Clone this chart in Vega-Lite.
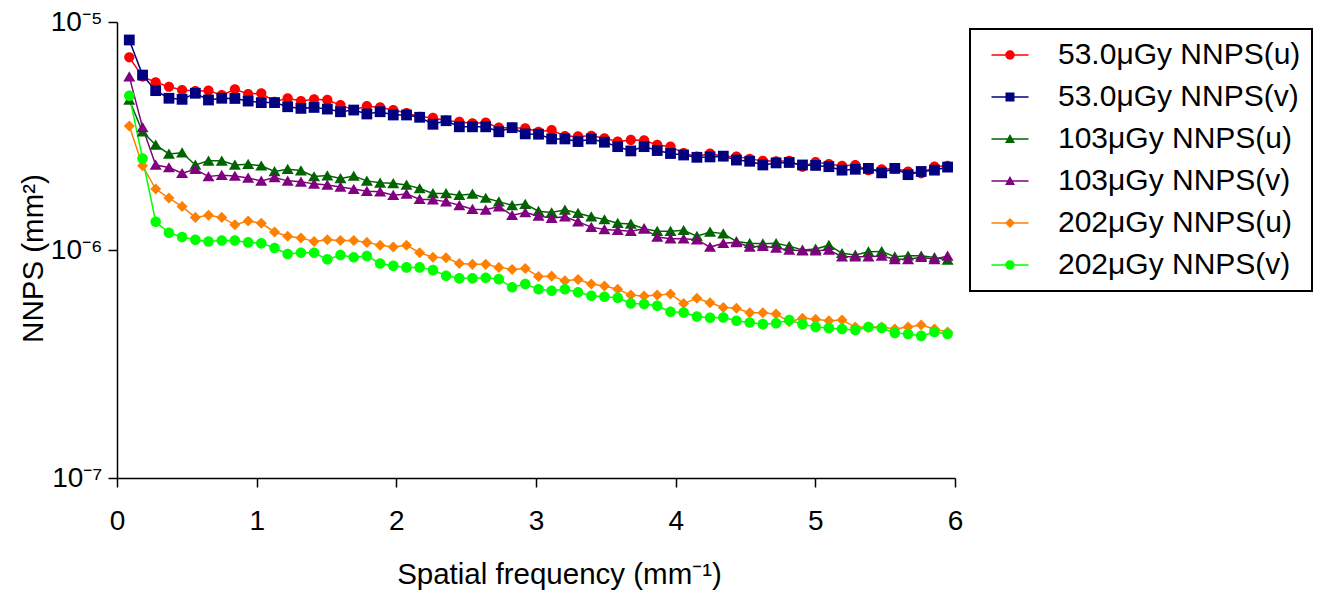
{
"$schema": "https://vega.github.io/schema/vega-lite/v6.json",
"width": 838, "height": 456,
"autosize": {"type": "none"},
"padding": {"left": 117, "top": 22, "right": 362, "bottom": 112},
"background": "white",
"config": {"view": {"stroke": null}, "font": "Liberation Sans", "legend": {"strokeWidth": 2}},
"datasets": {"pts": [
{"f":0.088,"s":"53.0μGy NNPS(u)","v":7.00e-6},{"f":0.183,"s":"53.0μGy NNPS(u)","v":5.76e-6},{"f":0.277,"s":"53.0μGy NNPS(u)","v":5.44e-6},{"f":0.372,"s":"53.0μGy NNPS(u)","v":5.20e-6},{"f":0.466,"s":"53.0μGy NNPS(u)","v":5.03e-6},{"f":0.561,"s":"53.0μGy NNPS(u)","v":4.98e-6},{"f":0.655,"s":"53.0μGy NNPS(u)","v":5.00e-6},{"f":0.750,"s":"53.0μGy NNPS(u)","v":4.78e-6},{"f":0.844,"s":"53.0μGy NNPS(u)","v":5.07e-6},{"f":0.939,"s":"53.0μGy NNPS(u)","v":4.83e-6},
{"f":1.033,"s":"53.0μGy NNPS(u)","v":4.87e-6},{"f":1.128,"s":"53.0μGy NNPS(u)","v":4.47e-6},{"f":1.222,"s":"53.0μGy NNPS(u)","v":4.63e-6},{"f":1.317,"s":"53.0μGy NNPS(u)","v":4.50e-6},{"f":1.411,"s":"53.0μGy NNPS(u)","v":4.58e-6},{"f":1.506,"s":"53.0μGy NNPS(u)","v":4.55e-6},{"f":1.600,"s":"53.0μGy NNPS(u)","v":4.32e-6},{"f":1.695,"s":"53.0μGy NNPS(u)","v":4.11e-6},{"f":1.789,"s":"53.0μGy NNPS(u)","v":4.28e-6},{"f":1.884,"s":"53.0μGy NNPS(u)","v":4.22e-6},
{"f":1.978,"s":"53.0μGy NNPS(u)","v":4.11e-6},{"f":2.073,"s":"53.0μGy NNPS(u)","v":3.99e-6},{"f":2.167,"s":"53.0μGy NNPS(u)","v":3.84e-6},{"f":2.262,"s":"53.0μGy NNPS(u)","v":3.80e-6},{"f":2.356,"s":"53.0μGy NNPS(u)","v":3.69e-6},{"f":2.451,"s":"53.0μGy NNPS(u)","v":3.65e-6},{"f":2.545,"s":"53.0μGy NNPS(u)","v":3.59e-6},{"f":2.640,"s":"53.0μGy NNPS(u)","v":3.62e-6},{"f":2.734,"s":"53.0μGy NNPS(u)","v":3.44e-6},{"f":2.829,"s":"53.0μGy NNPS(u)","v":3.44e-6},
{"f":2.923,"s":"53.0μGy NNPS(u)","v":3.42e-6},{"f":3.018,"s":"53.0μGy NNPS(u)","v":3.30e-6},{"f":3.112,"s":"53.0μGy NNPS(u)","v":3.36e-6},{"f":3.207,"s":"53.0μGy NNPS(u)","v":3.16e-6},{"f":3.301,"s":"53.0μGy NNPS(u)","v":3.15e-6},{"f":3.396,"s":"53.0μGy NNPS(u)","v":3.17e-6},{"f":3.490,"s":"53.0μGy NNPS(u)","v":3.09e-6},{"f":3.585,"s":"53.0μGy NNPS(u)","v":2.99e-6},{"f":3.679,"s":"53.0μGy NNPS(u)","v":3.04e-6},{"f":3.774,"s":"53.0μGy NNPS(u)","v":3.03e-6},
{"f":3.868,"s":"53.0μGy NNPS(u)","v":2.89e-6},{"f":3.963,"s":"53.0μGy NNPS(u)","v":2.84e-6},{"f":4.057,"s":"53.0μGy NNPS(u)","v":2.66e-6},{"f":4.152,"s":"53.0μGy NNPS(u)","v":2.57e-6},{"f":4.246,"s":"53.0μGy NNPS(u)","v":2.65e-6},{"f":4.341,"s":"53.0μGy NNPS(u)","v":2.58e-6},{"f":4.435,"s":"53.0μGy NNPS(u)","v":2.57e-6},{"f":4.530,"s":"53.0μGy NNPS(u)","v":2.51e-6},{"f":4.624,"s":"53.0μGy NNPS(u)","v":2.46e-6},{"f":4.719,"s":"53.0μGy NNPS(u)","v":2.45e-6},
{"f":4.813,"s":"53.0μGy NNPS(u)","v":2.46e-6},{"f":4.908,"s":"53.0μGy NNPS(u)","v":2.32e-6},{"f":5.002,"s":"53.0μGy NNPS(u)","v":2.43e-6},{"f":5.097,"s":"53.0μGy NNPS(u)","v":2.38e-6},{"f":5.191,"s":"53.0μGy NNPS(u)","v":2.34e-6},{"f":5.286,"s":"53.0μGy NNPS(u)","v":2.36e-6},{"f":5.380,"s":"53.0μGy NNPS(u)","v":2.24e-6},{"f":5.475,"s":"53.0μGy NNPS(u)","v":2.26e-6},{"f":5.569,"s":"53.0μGy NNPS(u)","v":2.28e-6},{"f":5.664,"s":"53.0μGy NNPS(u)","v":2.21e-6},
{"f":5.758,"s":"53.0μGy NNPS(u)","v":2.17e-6},{"f":5.853,"s":"53.0μGy NNPS(u)","v":2.32e-6},{"f":5.947,"s":"53.0μGy NNPS(u)","v":2.34e-6},
{"f":0.088,"s":"53.0μGy NNPS(v)","v":8.34e-6},{"f":0.183,"s":"53.0μGy NNPS(v)","v":5.85e-6},{"f":0.277,"s":"53.0μGy NNPS(v)","v":5.00e-6},{"f":0.372,"s":"53.0μGy NNPS(v)","v":4.63e-6},{"f":0.466,"s":"53.0μGy NNPS(v)","v":4.58e-6},{"f":0.561,"s":"53.0μGy NNPS(v)","v":4.87e-6},{"f":0.655,"s":"53.0μGy NNPS(v)","v":4.55e-6},{"f":0.750,"s":"53.0μGy NNPS(v)","v":4.63e-6},{"f":0.844,"s":"53.0μGy NNPS(v)","v":4.62e-6},{"f":0.939,"s":"53.0μGy NNPS(v)","v":4.50e-6},
{"f":1.033,"s":"53.0μGy NNPS(v)","v":4.43e-6},{"f":1.128,"s":"53.0μGy NNPS(v)","v":4.43e-6},{"f":1.222,"s":"53.0μGy NNPS(v)","v":4.25e-6},{"f":1.317,"s":"53.0μGy NNPS(v)","v":4.18e-6},{"f":1.411,"s":"53.0μGy NNPS(v)","v":4.22e-6},{"f":1.506,"s":"53.0μGy NNPS(v)","v":4.15e-6},{"f":1.600,"s":"53.0μGy NNPS(v)","v":4.04e-6},{"f":1.695,"s":"53.0μGy NNPS(v)","v":4.11e-6},{"f":1.789,"s":"53.0μGy NNPS(v)","v":3.95e-6},{"f":1.884,"s":"53.0μGy NNPS(v)","v":4.04e-6},
{"f":1.978,"s":"53.0μGy NNPS(v)","v":3.91e-6},{"f":2.073,"s":"53.0μGy NNPS(v)","v":3.91e-6},{"f":2.167,"s":"53.0μGy NNPS(v)","v":3.82e-6},{"f":2.262,"s":"53.0μGy NNPS(v)","v":3.56e-6},{"f":2.356,"s":"53.0μGy NNPS(v)","v":3.69e-6},{"f":2.451,"s":"53.0μGy NNPS(v)","v":3.47e-6},{"f":2.545,"s":"53.0μGy NNPS(v)","v":3.47e-6},{"f":2.640,"s":"53.0μGy NNPS(v)","v":3.47e-6},{"f":2.734,"s":"53.0μGy NNPS(v)","v":3.30e-6},{"f":2.829,"s":"53.0μGy NNPS(v)","v":3.44e-6},
{"f":2.923,"s":"53.0μGy NNPS(v)","v":3.23e-6},{"f":3.018,"s":"53.0μGy NNPS(v)","v":3.22e-6},{"f":3.112,"s":"53.0μGy NNPS(v)","v":3.07e-6},{"f":3.207,"s":"53.0μGy NNPS(v)","v":3.07e-6},{"f":3.301,"s":"53.0μGy NNPS(v)","v":2.99e-6},{"f":3.396,"s":"53.0μGy NNPS(v)","v":3.07e-6},{"f":3.490,"s":"53.0μGy NNPS(v)","v":2.97e-6},{"f":3.585,"s":"53.0μGy NNPS(v)","v":2.84e-6},{"f":3.679,"s":"53.0μGy NNPS(v)","v":2.72e-6},{"f":3.774,"s":"53.0μGy NNPS(v)","v":2.84e-6},
{"f":3.868,"s":"53.0μGy NNPS(v)","v":2.73e-6},{"f":3.963,"s":"53.0μGy NNPS(v)","v":2.65e-6},{"f":4.057,"s":"53.0μGy NNPS(v)","v":2.61e-6},{"f":4.152,"s":"53.0μGy NNPS(v)","v":2.55e-6},{"f":4.246,"s":"53.0μGy NNPS(v)","v":2.56e-6},{"f":4.341,"s":"53.0μGy NNPS(v)","v":2.58e-6},{"f":4.435,"s":"53.0μGy NNPS(v)","v":2.48e-6},{"f":4.530,"s":"53.0μGy NNPS(v)","v":2.45e-6},{"f":4.624,"s":"53.0μGy NNPS(v)","v":2.36e-6},{"f":4.719,"s":"53.0μGy NNPS(v)","v":2.41e-6},
{"f":4.813,"s":"53.0μGy NNPS(v)","v":2.42e-6},{"f":4.908,"s":"53.0μGy NNPS(v)","v":2.36e-6},{"f":5.002,"s":"53.0μGy NNPS(v)","v":2.35e-6},{"f":5.097,"s":"53.0μGy NNPS(v)","v":2.32e-6},{"f":5.191,"s":"53.0μGy NNPS(v)","v":2.24e-6},{"f":5.286,"s":"53.0μGy NNPS(v)","v":2.26e-6},{"f":5.380,"s":"53.0μGy NNPS(v)","v":2.28e-6},{"f":5.475,"s":"53.0μGy NNPS(v)","v":2.18e-6},{"f":5.569,"s":"53.0μGy NNPS(v)","v":2.28e-6},{"f":5.664,"s":"53.0μGy NNPS(v)","v":2.14e-6},
{"f":5.758,"s":"53.0μGy NNPS(v)","v":2.21e-6},{"f":5.853,"s":"53.0μGy NNPS(v)","v":2.24e-6},{"f":5.947,"s":"53.0μGy NNPS(v)","v":2.31e-6},
{"f":0.088,"s":"103μGy NNPS(u)","v":4.55e-6},{"f":0.183,"s":"103μGy NNPS(u)","v":3.30e-6},{"f":0.277,"s":"103μGy NNPS(u)","v":2.89e-6},{"f":0.372,"s":"103μGy NNPS(u)","v":2.64e-6},{"f":0.466,"s":"103μGy NNPS(u)","v":2.67e-6},{"f":0.561,"s":"103μGy NNPS(u)","v":2.36e-6},{"f":0.655,"s":"103μGy NNPS(u)","v":2.46e-6},{"f":0.750,"s":"103μGy NNPS(u)","v":2.46e-6},{"f":0.844,"s":"103μGy NNPS(u)","v":2.36e-6},{"f":0.939,"s":"103μGy NNPS(u)","v":2.38e-6},
{"f":1.033,"s":"103μGy NNPS(u)","v":2.34e-6},{"f":1.128,"s":"103μGy NNPS(u)","v":2.21e-6},{"f":1.222,"s":"103μGy NNPS(u)","v":2.26e-6},{"f":1.317,"s":"103μGy NNPS(u)","v":2.23e-6},{"f":1.411,"s":"103μGy NNPS(u)","v":2.10e-6},{"f":1.506,"s":"103μGy NNPS(u)","v":2.12e-6},{"f":1.600,"s":"103μGy NNPS(u)","v":2.06e-6},{"f":1.695,"s":"103μGy NNPS(u)","v":2.11e-6},{"f":1.789,"s":"103μGy NNPS(u)","v":2.01e-6},{"f":1.884,"s":"103μGy NNPS(u)","v":1.97e-6},
{"f":1.978,"s":"103μGy NNPS(u)","v":1.96e-6},{"f":2.073,"s":"103μGy NNPS(u)","v":1.93e-6},{"f":2.167,"s":"103μGy NNPS(u)","v":1.86e-6},{"f":2.262,"s":"103μGy NNPS(u)","v":1.77e-6},{"f":2.356,"s":"103μGy NNPS(u)","v":1.77e-6},{"f":2.451,"s":"103μGy NNPS(u)","v":1.74e-6},{"f":2.545,"s":"103μGy NNPS(u)","v":1.76e-6},{"f":2.640,"s":"103μGy NNPS(u)","v":1.69e-6},{"f":2.734,"s":"103μGy NNPS(u)","v":1.63e-6},{"f":2.829,"s":"103μGy NNPS(u)","v":1.57e-6},
{"f":2.923,"s":"103μGy NNPS(u)","v":1.59e-6},{"f":3.018,"s":"103μGy NNPS(u)","v":1.48e-6},{"f":3.112,"s":"103μGy NNPS(u)","v":1.46e-6},{"f":3.207,"s":"103μGy NNPS(u)","v":1.50e-6},{"f":3.301,"s":"103μGy NNPS(u)","v":1.45e-6},{"f":3.396,"s":"103μGy NNPS(u)","v":1.40e-6},{"f":3.490,"s":"103μGy NNPS(u)","v":1.36e-6},{"f":3.585,"s":"103μGy NNPS(u)","v":1.31e-6},{"f":3.679,"s":"103μGy NNPS(u)","v":1.30e-6},{"f":3.774,"s":"103μGy NNPS(u)","v":1.24e-6},
{"f":3.868,"s":"103μGy NNPS(u)","v":1.21e-6},{"f":3.963,"s":"103μGy NNPS(u)","v":1.21e-6},{"f":4.057,"s":"103μGy NNPS(u)","v":1.22e-6},{"f":4.152,"s":"103μGy NNPS(u)","v":1.15e-6},{"f":4.246,"s":"103μGy NNPS(u)","v":1.20e-6},{"f":4.341,"s":"103μGy NNPS(u)","v":1.18e-6},{"f":4.435,"s":"103μGy NNPS(u)","v":1.09e-6},{"f":4.530,"s":"103μGy NNPS(u)","v":1.07e-6},{"f":4.624,"s":"103μGy NNPS(u)","v":1.065e-6},{"f":4.719,"s":"103μGy NNPS(u)","v":1.07e-6},
{"f":4.813,"s":"103μGy NNPS(u)","v":1.04e-6},{"f":4.908,"s":"103μGy NNPS(u)","v":1.00e-6},{"f":5.002,"s":"103μGy NNPS(u)","v":1.01e-6},{"f":5.097,"s":"103μGy NNPS(u)","v":1.05e-6},{"f":5.191,"s":"103μGy NNPS(u)","v":9.67e-7},{"f":5.286,"s":"103μGy NNPS(u)","v":9.51e-7},{"f":5.380,"s":"103μGy NNPS(u)","v":9.83e-7},{"f":5.475,"s":"103μGy NNPS(u)","v":9.86e-7},{"f":5.569,"s":"103μGy NNPS(u)","v":9.35e-7},{"f":5.664,"s":"103μGy NNPS(u)","v":9.43e-7},
{"f":5.758,"s":"103μGy NNPS(u)","v":9.43e-7},{"f":5.853,"s":"103μGy NNPS(u)","v":9.27e-7},{"f":5.947,"s":"103μGy NNPS(u)","v":9.04e-7},
{"f":0.088,"s":"103μGy NNPS(v)","v":5.76e-6},{"f":0.183,"s":"103μGy NNPS(v)","v":3.45e-6},{"f":0.277,"s":"103μGy NNPS(v)","v":2.36e-6},{"f":0.372,"s":"103μGy NNPS(v)","v":2.30e-6},{"f":0.466,"s":"103μGy NNPS(v)","v":2.17e-6},{"f":0.561,"s":"103μGy NNPS(v)","v":2.26e-6},{"f":0.655,"s":"103μGy NNPS(v)","v":2.10e-6},{"f":0.750,"s":"103μGy NNPS(v)","v":2.13e-6},{"f":0.844,"s":"103μGy NNPS(v)","v":2.11e-6},{"f":0.939,"s":"103μGy NNPS(v)","v":2.07e-6},
{"f":1.033,"s":"103μGy NNPS(v)","v":2.01e-6},{"f":1.128,"s":"103μGy NNPS(v)","v":2.08e-6},{"f":1.222,"s":"103μGy NNPS(v)","v":2.01e-6},{"f":1.317,"s":"103μGy NNPS(v)","v":1.99e-6},{"f":1.411,"s":"103μGy NNPS(v)","v":1.95e-6},{"f":1.506,"s":"103μGy NNPS(v)","v":1.93e-6},{"f":1.600,"s":"103μGy NNPS(v)","v":1.89e-6},{"f":1.695,"s":"103μGy NNPS(v)","v":1.85e-6},{"f":1.789,"s":"103μGy NNPS(v)","v":1.81e-6},{"f":1.884,"s":"103μGy NNPS(v)","v":1.80e-6},
{"f":1.978,"s":"103μGy NNPS(v)","v":1.74e-6},{"f":2.073,"s":"103μGy NNPS(v)","v":1.76e-6},{"f":2.167,"s":"103μGy NNPS(v)","v":1.67e-6},{"f":2.262,"s":"103μGy NNPS(v)","v":1.66e-6},{"f":2.356,"s":"103μGy NNPS(v)","v":1.63e-6},{"f":2.451,"s":"103μGy NNPS(v)","v":1.57e-6},{"f":2.545,"s":"103μGy NNPS(v)","v":1.51e-6},{"f":2.640,"s":"103μGy NNPS(v)","v":1.50e-6},{"f":2.734,"s":"103μGy NNPS(v)","v":1.55e-6},{"f":2.829,"s":"103μGy NNPS(v)","v":1.42e-6},
{"f":2.923,"s":"103μGy NNPS(v)","v":1.46e-6},{"f":3.018,"s":"103μGy NNPS(v)","v":1.41e-6},{"f":3.112,"s":"103μGy NNPS(v)","v":1.38e-6},{"f":3.207,"s":"103μGy NNPS(v)","v":1.40e-6},{"f":3.301,"s":"103μGy NNPS(v)","v":1.33e-6},{"f":3.396,"s":"103μGy NNPS(v)","v":1.26e-6},{"f":3.490,"s":"103μGy NNPS(v)","v":1.23e-6},{"f":3.585,"s":"103μGy NNPS(v)","v":1.22e-6},{"f":3.679,"s":"103μGy NNPS(v)","v":1.21e-6},{"f":3.774,"s":"103μGy NNPS(v)","v":1.24e-6},
{"f":3.868,"s":"103μGy NNPS(v)","v":1.14e-6},{"f":3.963,"s":"103μGy NNPS(v)","v":1.12e-6},{"f":4.057,"s":"103μGy NNPS(v)","v":1.12e-6},{"f":4.152,"s":"103μGy NNPS(v)","v":1.11e-6},{"f":4.246,"s":"103μGy NNPS(v)","v":1.03e-6},{"f":4.341,"s":"103μGy NNPS(v)","v":1.07e-6},{"f":4.435,"s":"103μGy NNPS(v)","v":1.08e-6},{"f":4.530,"s":"103μGy NNPS(v)","v":1.03e-6},{"f":4.624,"s":"103μGy NNPS(v)","v":1.04e-6},{"f":4.719,"s":"103μGy NNPS(v)","v":1.02e-6},
{"f":4.813,"s":"103μGy NNPS(v)","v":1.00e-6},{"f":4.908,"s":"103μGy NNPS(v)","v":9.93e-7},{"f":5.002,"s":"103μGy NNPS(v)","v":9.93e-7},{"f":5.097,"s":"103μGy NNPS(v)","v":1.00e-6},{"f":5.191,"s":"103μGy NNPS(v)","v":9.35e-7},{"f":5.286,"s":"103μGy NNPS(v)","v":9.35e-7},{"f":5.380,"s":"103μGy NNPS(v)","v":9.35e-7},{"f":5.475,"s":"103μGy NNPS(v)","v":9.41e-7},{"f":5.569,"s":"103μGy NNPS(v)","v":9.10e-7},{"f":5.664,"s":"103μGy NNPS(v)","v":9.10e-7},
{"f":5.758,"s":"103μGy NNPS(v)","v":9.29e-7},{"f":5.853,"s":"103μGy NNPS(v)","v":9.10e-7},{"f":5.947,"s":"103μGy NNPS(v)","v":9.41e-7},
{"f":0.088,"s":"202μGy NNPS(u)","v":3.50e-6},{"f":0.183,"s":"202μGy NNPS(u)","v":2.34e-6},{"f":0.277,"s":"202μGy NNPS(u)","v":1.85e-6},{"f":0.372,"s":"202μGy NNPS(u)","v":1.69e-6},{"f":0.466,"s":"202μGy NNPS(u)","v":1.55e-6},{"f":0.561,"s":"202μGy NNPS(u)","v":1.39e-6},{"f":0.655,"s":"202μGy NNPS(u)","v":1.42e-6},{"f":0.750,"s":"202μGy NNPS(u)","v":1.39e-6},{"f":0.844,"s":"202μGy NNPS(u)","v":1.29e-6},{"f":0.939,"s":"202μGy NNPS(u)","v":1.34e-6},
{"f":1.033,"s":"202μGy NNPS(u)","v":1.31e-6},{"f":1.128,"s":"202μGy NNPS(u)","v":1.20e-6},{"f":1.222,"s":"202μGy NNPS(u)","v":1.15e-6},{"f":1.317,"s":"202μGy NNPS(u)","v":1.13e-6},{"f":1.411,"s":"202μGy NNPS(u)","v":1.09e-6},{"f":1.506,"s":"202μGy NNPS(u)","v":1.11e-6},{"f":1.600,"s":"202μGy NNPS(u)","v":1.10e-6},{"f":1.695,"s":"202μGy NNPS(u)","v":1.10e-6},{"f":1.789,"s":"202μGy NNPS(u)","v":1.08e-6},{"f":1.884,"s":"202μGy NNPS(u)","v":1.05e-6},
{"f":1.978,"s":"202μGy NNPS(u)","v":1.03e-6},{"f":2.073,"s":"202μGy NNPS(u)","v":1.05e-6},{"f":2.167,"s":"202μGy NNPS(u)","v":9.73e-7},{"f":2.262,"s":"202μGy NNPS(u)","v":9.29e-7},{"f":2.356,"s":"202μGy NNPS(u)","v":9.25e-7},{"f":2.451,"s":"202μGy NNPS(u)","v":8.73e-7},{"f":2.545,"s":"202μGy NNPS(u)","v":8.65e-7},{"f":2.640,"s":"202μGy NNPS(u)","v":8.65e-7},{"f":2.734,"s":"202μGy NNPS(u)","v":8.39e-7},{"f":2.829,"s":"202μGy NNPS(u)","v":8.22e-7},
{"f":2.923,"s":"202μGy NNPS(u)","v":8.30e-7},{"f":3.018,"s":"202μGy NNPS(u)","v":7.66e-7},{"f":3.112,"s":"202μGy NNPS(u)","v":7.68e-7},{"f":3.207,"s":"202μGy NNPS(u)","v":7.33e-7},{"f":3.301,"s":"202μGy NNPS(u)","v":7.43e-7},{"f":3.396,"s":"202μGy NNPS(u)","v":7.10e-7},{"f":3.490,"s":"202μGy NNPS(u)","v":6.95e-7},{"f":3.585,"s":"202μGy NNPS(u)","v":6.73e-7},{"f":3.679,"s":"202μGy NNPS(u)","v":6.34e-7},{"f":3.774,"s":"202μGy NNPS(u)","v":6.28e-7},
{"f":3.868,"s":"202μGy NNPS(u)","v":6.34e-7},{"f":3.963,"s":"202μGy NNPS(u)","v":6.41e-7},{"f":4.057,"s":"202μGy NNPS(u)","v":5.83e-7},{"f":4.152,"s":"202μGy NNPS(u)","v":6.14e-7},{"f":4.246,"s":"202μGy NNPS(u)","v":5.87e-7},{"f":4.341,"s":"202μGy NNPS(u)","v":5.60e-7},{"f":4.435,"s":"202μGy NNPS(u)","v":5.55e-7},{"f":4.530,"s":"202μGy NNPS(u)","v":5.31e-7},{"f":4.624,"s":"202μGy NNPS(u)","v":5.31e-7},{"f":4.719,"s":"202μGy NNPS(u)","v":5.24e-7},
{"f":4.813,"s":"202μGy NNPS(u)","v":4.85e-7},{"f":4.908,"s":"202μGy NNPS(u)","v":5.02e-7},{"f":5.002,"s":"202μGy NNPS(u)","v":4.97e-7},{"f":5.097,"s":"202μGy NNPS(u)","v":4.89e-7},{"f":5.191,"s":"202μGy NNPS(u)","v":4.93e-7},{"f":5.286,"s":"202μGy NNPS(u)","v":4.59e-7},{"f":5.380,"s":"202μGy NNPS(u)","v":4.59e-7},{"f":5.475,"s":"202μGy NNPS(u)","v":4.59e-7},{"f":5.569,"s":"202μGy NNPS(u)","v":4.50e-7},{"f":5.664,"s":"202μGy NNPS(u)","v":4.59e-7},
{"f":5.758,"s":"202μGy NNPS(u)","v":4.69e-7},{"f":5.853,"s":"202μGy NNPS(u)","v":4.50e-7},{"f":5.947,"s":"202μGy NNPS(u)","v":4.37e-7},
{"f":0.088,"s":"202μGy NNPS(v)","v":4.75e-6},{"f":0.183,"s":"202μGy NNPS(v)","v":2.52e-6},{"f":0.277,"s":"202μGy NNPS(v)","v":1.33e-6},{"f":0.372,"s":"202μGy NNPS(v)","v":1.19e-6},{"f":0.466,"s":"202μGy NNPS(v)","v":1.14e-6},{"f":0.561,"s":"202μGy NNPS(v)","v":1.11e-6},{"f":0.655,"s":"202μGy NNPS(v)","v":1.09e-6},{"f":0.750,"s":"202μGy NNPS(v)","v":1.10e-6},{"f":0.844,"s":"202μGy NNPS(v)","v":1.10e-6},{"f":0.939,"s":"202μGy NNPS(v)","v":1.08e-6},
{"f":1.033,"s":"202μGy NNPS(v)","v":1.07e-6},{"f":1.128,"s":"202μGy NNPS(v)","v":1.02e-6},{"f":1.222,"s":"202μGy NNPS(v)","v":9.60e-7},{"f":1.317,"s":"202μGy NNPS(v)","v":9.73e-7},{"f":1.411,"s":"202μGy NNPS(v)","v":9.73e-7},{"f":1.506,"s":"202μGy NNPS(v)","v":9.10e-7},{"f":1.600,"s":"202μGy NNPS(v)","v":9.51e-7},{"f":1.695,"s":"202μGy NNPS(v)","v":9.29e-7},{"f":1.789,"s":"202μGy NNPS(v)","v":9.41e-7},{"f":1.884,"s":"202μGy NNPS(v)","v":8.73e-7},
{"f":1.978,"s":"202μGy NNPS(v)","v":8.53e-7},{"f":2.073,"s":"202μGy NNPS(v)","v":8.39e-7},{"f":2.167,"s":"202μGy NNPS(v)","v":8.39e-7},{"f":2.262,"s":"202μGy NNPS(v)","v":8.16e-7},{"f":2.356,"s":"202μGy NNPS(v)","v":7.71e-7},{"f":2.451,"s":"202μGy NNPS(v)","v":7.51e-7},{"f":2.545,"s":"202μGy NNPS(v)","v":7.51e-7},{"f":2.640,"s":"202μGy NNPS(v)","v":7.55e-7},{"f":2.734,"s":"202μGy NNPS(v)","v":7.45e-7},{"f":2.829,"s":"202μGy NNPS(v)","v":6.86e-7},
{"f":2.923,"s":"202μGy NNPS(v)","v":7.10e-7},{"f":3.018,"s":"202μGy NNPS(v)","v":6.73e-7},{"f":3.112,"s":"202μGy NNPS(v)","v":6.63e-7},{"f":3.207,"s":"202μGy NNPS(v)","v":6.73e-7},{"f":3.301,"s":"202μGy NNPS(v)","v":6.52e-7},{"f":3.396,"s":"202μGy NNPS(v)","v":6.30e-7},{"f":3.490,"s":"202μGy NNPS(v)","v":6.24e-7},{"f":3.585,"s":"202μGy NNPS(v)","v":6.17e-7},{"f":3.679,"s":"202μGy NNPS(v)","v":5.83e-7},{"f":3.774,"s":"202μGy NNPS(v)","v":5.79e-7},
{"f":3.868,"s":"202μGy NNPS(v)","v":5.69e-7},{"f":3.963,"s":"202μGy NNPS(v)","v":5.36e-7},{"f":4.057,"s":"202μGy NNPS(v)","v":5.32e-7},{"f":4.152,"s":"202μGy NNPS(v)","v":5.11e-7},{"f":4.246,"s":"202μGy NNPS(v)","v":5.04e-7},{"f":4.341,"s":"202μGy NNPS(v)","v":5.06e-7},{"f":4.435,"s":"202μGy NNPS(v)","v":4.89e-7},{"f":4.530,"s":"202μGy NNPS(v)","v":4.81e-7},{"f":4.624,"s":"202μGy NNPS(v)","v":4.73e-7},{"f":4.719,"s":"202μGy NNPS(v)","v":4.77e-7},
{"f":4.813,"s":"202μGy NNPS(v)","v":4.93e-7},{"f":4.908,"s":"202μGy NNPS(v)","v":4.73e-7},{"f":5.002,"s":"202μGy NNPS(v)","v":4.60e-7},{"f":5.097,"s":"202μGy NNPS(v)","v":4.55e-7},{"f":5.191,"s":"202μGy NNPS(v)","v":4.50e-7},{"f":5.286,"s":"202μGy NNPS(v)","v":4.46e-7},{"f":5.380,"s":"202μGy NNPS(v)","v":4.59e-7},{"f":5.475,"s":"202μGy NNPS(v)","v":4.55e-7},{"f":5.569,"s":"202μGy NNPS(v)","v":4.33e-7},{"f":5.664,"s":"202μGy NNPS(v)","v":4.28e-7},
{"f":5.758,"s":"202μGy NNPS(v)","v":4.20e-7},{"f":5.853,"s":"202μGy NNPS(v)","v":4.37e-7},{"f":5.947,"s":"202μGy NNPS(v)","v":4.28e-7}
]},
"data": {"name": "pts"},
"encoding": {
  "x": {"field": "f", "type": "quantitative",
        "scale": {"domain": [0, 6], "nice": false, "zero": false},
        "axis": {"values": [0,1,2,3,4,5,6], "format": "d", "grid": false,
                 "title": "Spatial frequency (mm⁻¹)",
                 "domainColor": "black", "domainWidth": 1.5, "tickColor": "black", "tickWidth": 1.5, "tickSize": 9,
                 "labelFontSize": 28, "labelColor": "black", "labelFont": "Liberation Sans", "labelPadding": 20, "labelFlush": false,
                 "titleFontSize": 29.5, "titleFontWeight": "normal", "titleColor": "black", "titleFont": "Liberation Sans",
                 "titleX": 442, "titleY": 105, "titleBaseline": "alphabetic", "titleAlign": "center"}},
  "y": {"field": "v", "type": "quantitative",
        "scale": {"type": "log", "domain": [1e-7, 1e-5], "nice": false},
        "axis": {"values": [1e-7, 1e-6, 1e-5], "grid": false,
                 "labelExpr": "datum.value > 5e-6 ? '10⁻⁵' : datum.value > 5e-7 ? '10⁻⁶' : '10⁻⁷'",
                 "title": "NNPS (mm²)",
                 "domainColor": "black", "domainWidth": 1.5, "tickColor": "black", "tickWidth": 1.5, "tickSize": 9,
                 "labelFontSize": 28, "labelColor": "black", "labelFont": "Liberation Sans", "labelPadding": 6, "labelFlush": false,
                 "titleFontSize": 29.5, "titleFontWeight": "normal", "titleColor": "black", "titleFont": "Liberation Sans",
                 "titleX": -84, "titleY": 236, "titleAngle": 270, "titleBaseline": "middle", "titleAlign": "center"}},
  "color": {"field": "s", "type": "nominal",
            "scale": {"domain": ["53.0μGy NNPS(u)", "53.0μGy NNPS(v)", "103μGy NNPS(u)", "103μGy NNPS(v)", "202μGy NNPS(u)", "202μGy NNPS(v)"],
                      "range": ["#FF0000", "#000080", "#006400", "#800080", "#FF8000", "#00FF00"]},
            "legend": {"orient": "none", "legendX": 853, "legendY": 7, "title": null, "direction": "vertical",
                       "padding": 11, "strokeColor": "black",
                       "labelFontSize": 30, "labelFont": "Liberation Sans", "labelColor": "black", "labelLimit": 500,
                       "symbolSize": 100, "symbolOffset": 14, "labelOffset": 33, "rowPadding": 12,
                       "symbolStrokeWidth": 0,
                       "symbolType": {"expr": "(indexof(datum.value,'53')===0 && indexof(datum.value,'(u)')>0) || (indexof(datum.value,'202')===0 && indexof(datum.value,'(v)')>0) ? 'M-3.7,-0.15L3.7,-0.15L3.7,0.15L-3.7,0.15ZM-0.94,0A0.94,0.94,0,1,1,0.94,0A0.94,0.94,0,1,1,-0.94,0Z' : indexof(datum.value,'53')===0 ? 'M-3.7,-0.15L3.7,-0.15L3.7,0.15L-3.7,0.15ZM-0.9,-0.9L0.9,-0.9L0.9,0.9L-0.9,0.9Z' : indexof(datum.value,'103')===0 ? 'M-3.7,-0.15L3.7,-0.15L3.7,0.15L-3.7,0.15ZM0,-1L1,0.8L-1,0.8Z' : 'M-3.7,-0.15L3.7,-0.15L3.7,0.15L-3.7,0.15ZM0,-1L1,0L0,1L-1,0Z'"}}}
},
"layer": [
  {"mark": {"type": "line", "strokeWidth": 1.5}, "encoding": {"order": {"field": "f", "type": "quantitative"}}},
  {"transform": [{"filter": {"field": "s", "equal": "53.0μGy NNPS(u)"}}],
   "mark": {"type": "point", "filled": true, "opacity": 1, "size": 144, "strokeWidth": 0, "shape": "M-0.85,0A0.85,0.85,0,1,1,0.85,0A0.85,0.85,0,1,1,-0.85,0Z"}},
  {"transform": [{"filter": {"field": "s", "equal": "53.0μGy NNPS(v)"}}],
   "mark": {"type": "point", "filled": true, "opacity": 1, "size": 144, "strokeWidth": 0, "shape": "M-0.9,-0.9L0.9,-0.9L0.9,0.9L-0.9,0.9Z"}},
  {"transform": [{"filter": {"field": "s", "oneOf": ["103μGy NNPS(u)", "103μGy NNPS(v)"]}}],
   "mark": {"type": "point", "filled": true, "opacity": 1, "size": 144, "strokeWidth": 0, "shape": "M0,-0.9L1,0.8L-1,0.8Z"}},
  {"transform": [{"filter": {"field": "s", "equal": "202μGy NNPS(u)"}}],
   "mark": {"type": "point", "filled": true, "opacity": 1, "size": 144, "strokeWidth": 0, "shape": "M0,-0.92L0.92,0L0,0.92L-0.92,0Z"}},
  {"transform": [{"filter": {"field": "s", "equal": "202μGy NNPS(v)"}}],
   "mark": {"type": "point", "filled": true, "opacity": 1, "size": 144, "strokeWidth": 0, "shape": "M-0.88,0A0.88,0.88,0,1,1,0.88,0A0.88,0.88,0,1,1,-0.88,0Z"}}
]
}
